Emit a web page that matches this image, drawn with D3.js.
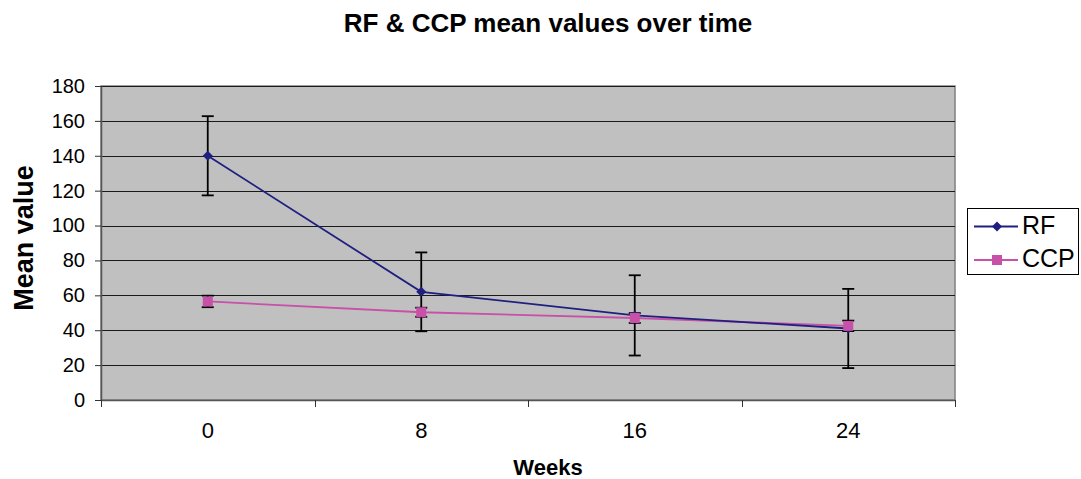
<!DOCTYPE html>
<html><head><meta charset="utf-8">
<script src="https://cdn.jsdelivr.net/npm/d3@7"></script>
<style>body{margin:0;background:#fff;} svg{display:block;font-family:"Liberation Sans",Arial,sans-serif;}</style>
</head><body>
<svg id="c" width="1081" height="479"></svg>
<script>
const weeks = ["0","8","16","24"];
const rfMean = [140, 62, 48.5, 41];
const rfErr = [22.7, 22.6, 23, 22.7];
const ccpMean = [56.5, 50.3, 47, 42.5];
const ccpErr = [3.3, 2.6, 2.8, 3];
const yTicks = [0,20,40,60,80,100,120,140,160,180];

const svg = d3.select("#c");
const L=101, R=955, T=86, B=400;
const x = d3.scaleBand().domain(weeks).range([L,R]).padding(0);
const y = d3.scaleLinear().domain([0,180]).range([B,T]);
const cx = d => x(d)+x.bandwidth()/2;

svg.append("rect").attr("x",L).attr("y",T).attr("width",R-L).attr("height",B-T).attr("fill","#C0C0C0").attr("stroke","#808080").attr("stroke-width",1.5);

// gridlines
svg.append("g").selectAll("line").data(yTicks.filter(v=>v>0)).join("line")
  .attr("x1",L).attr("x2",R).attr("y1",d=>Math.round(y(d))+0.5).attr("y2",d=>Math.round(y(d))+0.5)
  .attr("stroke","#1a1a1a").attr("stroke-width",1);

// y axis
const ya = svg.append("g").attr("transform",`translate(${L},0)`)
  .call(d3.axisLeft(y).tickValues(yTicks).tickSize(6).tickPadding(10).tickSizeOuter(0));
ya.select(".domain").attr("stroke","#555").attr("stroke-width",1.5);
ya.selectAll(".tick line").attr("stroke","#333");
ya.selectAll("text").style("font-size","20px").attr("fill","#000").style("font-family","Liberation Sans, Arial, sans-serif");

// x axis
const xa = svg.append("g").attr("transform",`translate(0,${B})`)
  .call(d3.axisBottom(x).tickSize(0).tickSizeOuter(0));
xa.select(".domain").attr("stroke","#555").attr("stroke-width",1.5);
xa.selectAll("text").style("font-size","22px").attr("fill","#000").attr("y",38).attr("dy",0).style("font-family","Liberation Sans, Arial, sans-serif");
const bounds = weeks.map(w=>x(w)).concat([x(weeks[weeks.length-1])+x.bandwidth()]);
svg.append("g").selectAll("line").data(bounds).join("line")
  .attr("x1",d=>Math.round(d)+0.5).attr("x2",d=>Math.round(d)+0.5).attr("y1",B).attr("y2",B+7)
  .attr("stroke","#333").attr("stroke-width",1);

// lines
const rfColor="#1F1F80", ccpColor="#C850A8";
const line = d3.line().x((d,i)=>cx(weeks[i])).y(d=>y(d));
svg.append("path").datum(ccpMean).attr("d",line).attr("fill","none").attr("stroke",ccpColor).attr("stroke-width",1.8);
svg.append("path").datum(rfMean).attr("d",line).attr("fill","none").attr("stroke",rfColor).attr("stroke-width",1.8);

// error bars
function errBars(means, errs){
  const g = svg.append("g").attr("stroke","#000").attr("stroke-width",1.8);
  means.forEach((m,i)=>{
    const xc = cx(weeks[i]);
    g.append("line").attr("x1",xc).attr("x2",xc).attr("y1",y(m-errs[i])).attr("y2",y(m+errs[i]));
    [m-errs[i], m+errs[i]].forEach(v=>{
      g.append("line").attr("x1",xc-6).attr("x2",xc+6).attr("y1",y(v)).attr("y2",y(v));
    });
  });
}
errBars(rfMean, rfErr);
errBars(ccpMean, ccpErr);

// markers
svg.append("g").selectAll("path").data(rfMean).join("path")
  .attr("d",d3.symbol(d3.symbolDiamond2, 64)).attr("fill",rfColor)
  .attr("transform",(d,i)=>`translate(${cx(weeks[i])},${y(d)})`);
svg.append("g").selectAll("rect").data(ccpMean).join("rect")
  .attr("x",(d,i)=>cx(weeks[i])-5).attr("y",d=>y(d)-5).attr("width",10).attr("height",10).attr("fill",ccpColor);

// title & labels
svg.append("text").attr("x",548).attr("y",32).attr("text-anchor","middle").attr("font-size",26).attr("font-weight","bold").text("RF & CCP mean values over time");
svg.append("text").attr("x",548).attr("y",475).attr("text-anchor","middle").attr("font-size",22).attr("font-weight","bold").text("Weeks");
svg.append("text").attr("transform","translate(33,238) rotate(-90)").attr("text-anchor","middle").attr("font-size",27).attr("font-weight","bold").text("Mean value");

// legend
const lg = svg.append("g");
lg.append("rect").attr("x",967.5).attr("y",208.5).attr("width",111).attr("height",66).attr("fill","#fff").attr("stroke","#000").attr("stroke-width",1);
const items=[{n:"RF",c:rfColor,s:"d"},{n:"CCP",c:ccpColor,s:"s"}];
items.forEach((it,i)=>{
  const yy = 226.5 + i*33.5;
  lg.append("line").attr("x1",974).attr("x2",1018).attr("y1",yy).attr("y2",yy).attr("stroke",it.c).attr("stroke-width",1.8);
  if(it.s==="d") lg.append("path").attr("d",d3.symbol(d3.symbolDiamond2,64)).attr("fill",it.c).attr("transform",`translate(997,${yy})`);
  else lg.append("rect").attr("x",992).attr("y",yy-5).attr("width",10).attr("height",10).attr("fill",it.c);
  lg.append("text").attr("x",1022).attr("y",yy+7).attr("font-size",25).text(it.n);
});
</script>
</body></html>
